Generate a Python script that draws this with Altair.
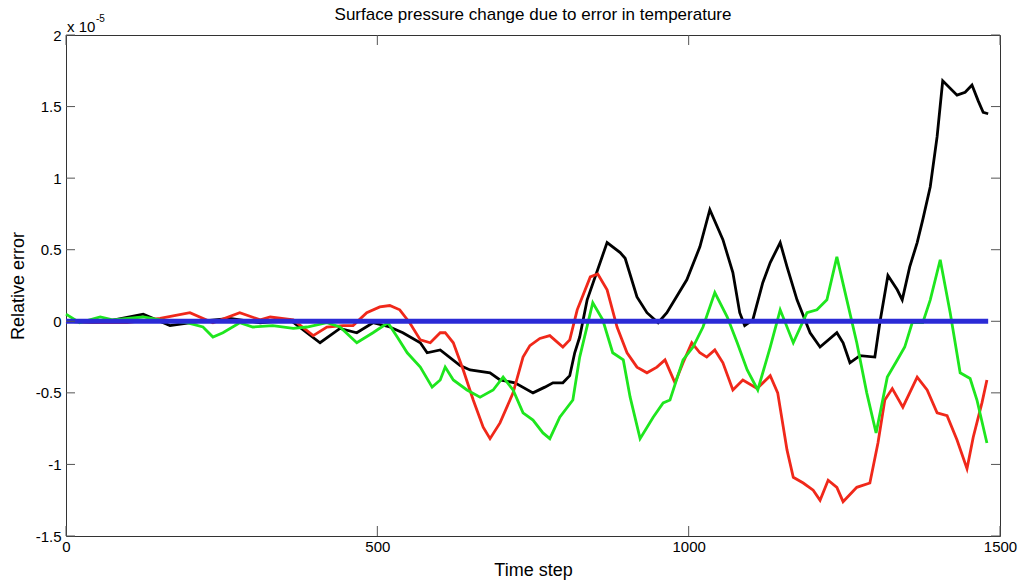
import altair as alt
import pandas as pd

# values in units of 1e-5 (axis multiplier "x 10^-5")
BLACK_T = [0,55,124,167,215,263,312,360,408,440,467,493,520,541,569,580,601,633,649,681,697,721,750,769,782,798,809,817,825,837,869,890,898,917,933,951,965,997,1018,1034,1055,1071,1082,1090,1103,1119,1131,1147,1158,1174,1195,1211,1238,1248,1259,1275,1299,1307,1320,1335,1343,1355,1367,1376,1388,1399,1408,1431,1444,1455,1465,1473,1481]
BLACK_V = [0,-0.01,0.05,-0.03,0,0.02,-0.01,0.01,-0.15,-0.05,-0.08,-0.01,-0.04,-0.08,-0.15,-0.22,-0.2,-0.31,-0.34,-0.36,-0.41,-0.43,-0.5,-0.46,-0.43,-0.43,-0.38,-0.22,-0.11,0.15,0.55,0.48,0.44,0.17,0.06,-0.01,0.06,0.29,0.52,0.78,0.57,0.34,0.06,-0.03,0.01,0.27,0.41,0.55,0.38,0.15,-0.08,-0.18,-0.08,-0.15,-0.29,-0.24,-0.25,-0.01,0.32,0.22,0.15,0.38,0.55,0.71,0.94,1.29,1.68,1.58,1.6,1.65,1.54,1.46,1.45]

RED_T = [0,55,98,151,199,236,279,312,328,365,397,419,445,461,483,504,520,536,552,569,585,601,609,622,638,654,670,681,697,718,734,745,761,777,798,809,821,842,854,869,885,901,917,933,949,962,978,991,1005,1018,1029,1042,1055,1071,1087,1110,1131,1143,1158,1168,1184,1200,1211,1224,1238,1248,1270,1291,1304,1315,1327,1344,1367,1383,1399,1415,1431,1447,1457,1471,1479]
RED_V = [0,-0.01,-0.01,0.02,0.06,-0.01,0.06,0.01,0.03,0.01,-0.1,-0.04,-0.03,-0.03,0.06,0.1,0.11,0.08,-0.01,-0.13,-0.15,-0.08,-0.08,-0.15,-0.34,-0.55,-0.74,-0.82,-0.71,-0.5,-0.25,-0.17,-0.12,-0.1,-0.18,-0.13,0.08,0.31,0.33,0.22,-0.04,-0.22,-0.32,-0.36,-0.32,-0.27,-0.43,-0.29,-0.15,-0.22,-0.25,-0.2,-0.29,-0.48,-0.41,-0.47,-0.38,-0.5,-0.9,-1.09,-1.13,-1.18,-1.25,-1.11,-1.16,-1.26,-1.16,-1.13,-0.85,-0.55,-0.47,-0.6,-0.39,-0.48,-0.64,-0.66,-0.83,-1.03,-0.81,-0.57,-0.41]

GREEN_T = [0,22,55,75,124,151,194,220,236,252,279,300,332,365,387,419,440,467,493,517,532,548,569,588,601,609,622,644,665,686,702,718,734,750,766,777,793,814,825,846,862,878,895,906,922,943,959,970,991,1007,1023,1042,1062,1078,1094,1111,1131,1147,1168,1190,1206,1222,1238,1254,1270,1286,1301,1319,1335,1347,1359,1376,1388,1404,1420,1436,1452,1463,1479]
GREEN_V = [0.05,-0.01,0.03,0.01,0.03,0.01,-0.01,-0.04,-0.11,-0.08,-0.01,-0.04,-0.03,-0.05,-0.04,-0.01,-0.04,-0.15,-0.08,-0.01,-0.11,-0.22,-0.32,-0.46,-0.41,-0.32,-0.41,-0.48,-0.53,-0.48,-0.39,-0.48,-0.64,-0.69,-0.78,-0.82,-0.67,-0.55,-0.25,0.13,0.01,-0.22,-0.27,-0.53,-0.82,-0.67,-0.57,-0.55,-0.27,-0.18,-0.04,0.2,0.03,-0.15,-0.34,-0.48,-0.18,0.08,-0.15,0.06,0.08,0.15,0.45,0.15,-0.15,-0.5,-0.78,-0.39,-0.27,-0.18,-0.01,-0.01,0.15,0.43,0.06,-0.36,-0.4,-0.55,-0.85]

BLUE_T = [0, 1481]
BLUE_V = [0, 0]

X_TICKS = [0, 500, 1000, 1500]
Y_TICKS = [-1.5, -1, -0.5, 0, 0.5, 1, 1.5, 2]

TITLE = "Surface pressure change due to error in temperature"
FONT = "Liberation Sans"
W, H = 934, 501

xs = alt.Scale(domain=[0, 1500], nice=False, zero=False)
ys = alt.Scale(domain=[-1.5, 2], nice=False, zero=False)

x_axis = alt.Axis(
    title="Time step", values=X_TICKS, grid=False, ticks=False, domain=False,
    labelExpr="'' + datum.value",
    labelFont=FONT, labelFontSize=15, labelColor="#000", labelPadding=3,
    titleFont=FONT, titleFontSize=18, titleFontWeight="normal", titleColor="#000",
    titleY=34, titleBaseline="middle", labelFlush=False)
y_axis = alt.Axis(
    title="Relative error", values=Y_TICKS, grid=False, ticks=False, domain=False,
    labelExpr="'' + datum.value",
    labelFont=FONT, labelFontSize=15, labelColor="#000", labelPadding=5,
    titleFont=FONT, titleFontSize=18, titleFontWeight="normal", titleColor="#000",
    titleX=-48, titleY=H / 2, titleBaseline="middle", titleAngle=-90, labelFlush=False)

series = [
    (BLACK_T, BLACK_V, "#000000", 2.8),
    (RED_T, RED_V, "#f0281a", 2.8),
    (GREEN_T, GREEN_V, "#1ee61e", 2.8),
    (BLUE_T, BLUE_V, "#2b2bd6", 5),
]

layers = []
for i, (t, v, col, sw) in enumerate(series):
    df = pd.DataFrame({"t": t, "v": v})
    layers.append(alt.Chart(df).mark_line(color=col, strokeWidth=sw).encode(
        x=alt.X("t:Q", scale=xs, axis=x_axis),
        y=alt.Y("v:Q", scale=ys, axis=y_axis)))

xt = pd.DataFrame({"t": X_TICKS})
yt = pd.DataFrame({"v": Y_TICKS})
tick_col = "#555555"
ticks = [
    alt.Chart(xt).mark_rule(color=tick_col, strokeWidth=1).encode(
        x=alt.X("t:Q", scale=xs, axis=x_axis), y=alt.value(H), y2=alt.value(H - 10)),
    alt.Chart(xt).mark_rule(color=tick_col, strokeWidth=1).encode(
        x=alt.X("t:Q", scale=xs, axis=x_axis), y=alt.value(0), y2=alt.value(10)),
    alt.Chart(yt).mark_rule(color=tick_col, strokeWidth=1).encode(
        y=alt.Y("v:Q", scale=ys, axis=y_axis), x=alt.value(0), x2=alt.value(9)),
    alt.Chart(yt).mark_rule(color=tick_col, strokeWidth=1).encode(
        y=alt.Y("v:Q", scale=ys, axis=y_axis), x=alt.value(W - 9), x2=alt.value(W)),
]

one = pd.DataFrame({"a": [0]})
title_txt = alt.Chart(one).mark_text(
    text=TITLE, font=FONT, fontSize=17, align="center", baseline="middle", color="#000"
).encode(x=alt.value(W / 2), y=alt.value(-20))
mult_main = alt.Chart(one).mark_text(
    text="x 10", font=FONT, fontSize=15, align="left", baseline="alphabetic", color="#000"
).encode(x=alt.value(1), y=alt.value(-3))
mult_sup = alt.Chart(one).mark_text(
    text="-5", font=FONT, fontSize=10, align="left", baseline="alphabetic", color="#000"
).encode(x=alt.value(30), y=alt.value(-13))

chart = alt.layer(*layers, *ticks, title_txt, mult_main, mult_sup).properties(
    width=W, height=H,
    autosize=alt.AutoSizeParams(type="none"),
    padding={"left": 66, "top": 35, "right": 21, "bottom": 48},
    background="white",
).configure_view(stroke="#333333", strokeWidth=1)

chart.save("out.html", embed_options={"renderer": "svg", "actions": False})
